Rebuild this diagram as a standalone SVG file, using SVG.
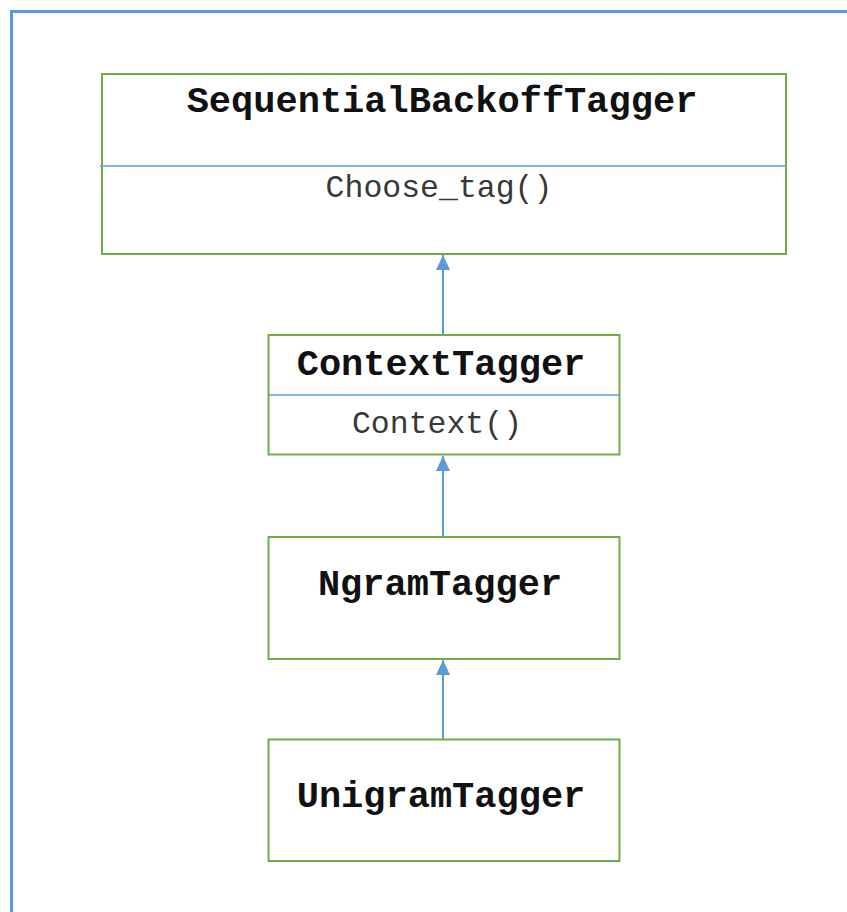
<svg xmlns="http://www.w3.org/2000/svg" width="847" height="912" viewBox="0 0 847 912">
  <style>
    .frame { fill: none; stroke: #5b9bd5; stroke-width: 3; }
    .box { fill: #ffffff; stroke: #70ad47; stroke-width: 2; }
    .divider { stroke: #5b9bd5; stroke-width: 1.5; }
    .title { font-family: "Liberation Mono", "Courier New", monospace; font-weight: bold; font-size: 37px; fill: #111111; text-anchor: middle; }
    .method { font-family: "Liberation Mono", "Courier New", monospace; font-size: 31.5px; fill: #383838; text-anchor: middle; }
    .edge { stroke: #5b9bd5; stroke-width: 2; fill: none; marker-end: url(#arrow); }
  </style>
  <defs>
    <!-- filled triangular head for generalisation links -->
    <marker id="arrow" markerWidth="15" markerHeight="14" refX="15" refY="7" orient="auto" markerUnits="userSpaceOnUse" viewBox="0 0 15 14">
      <path d="M0,0 L15,7 L0,14 z" fill="#5b9bd5"/>
    </marker>
  </defs>

  <rect width="847" height="912" fill="#ffffff"/>
  <!-- outer frame, open to the right and bottom -->
  <path class="frame" d="M11.5,912 L11.5,11.5 L847,11.5"/>

  <g id="connectors">
    <line class="edge" x1="443" y1="335" x2="443" y2="255"/>
    <line class="edge" x1="443" y1="537" x2="443" y2="456"/>
    <line class="edge" x1="443" y1="739" x2="443" y2="660"/>
  </g>

  <g id="SequentialBackoffTagger">
    <rect class="box" x="102" y="74" width="684" height="180"/>
    <line class="divider" x1="100" y1="166" x2="785" y2="166"/>
    <text class="title" x="442" y="112">SequentialBackoffTagger</text>
    <text class="method" x="439" y="197">Choose_tag()</text>
  </g>

  <g id="ContextTagger">
    <rect class="box" x="268.5" y="335" width="351" height="119.5"/>
    <line class="divider" x1="268.5" y1="395" x2="619.5" y2="395"/>
    <text class="title" x="441" y="375">ContextTagger</text>
    <text class="method" x="437" y="433">Context()</text>
  </g>

  <g id="NgramTagger">
    <rect class="box" x="268.5" y="537" width="351" height="122"/>
    <text class="title" x="440" y="595">NgramTagger</text>
  </g>

  <g id="UnigramTagger">
    <rect class="box" x="268.5" y="739.5" width="351" height="121.5"/>
    <text class="title" x="441" y="807">UnigramTagger</text>
  </g>
</svg>
